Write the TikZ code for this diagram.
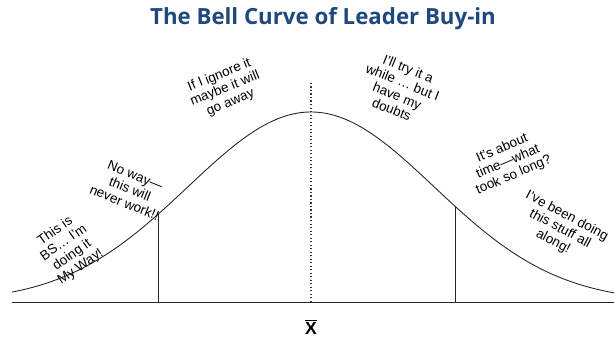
\documentclass[tikz,border=0pt]{standalone}
\usepackage{fontspec}
\setmainfont{Liberation Sans}
\newfontfamily\titlefont{Open Sans}
\definecolor{titleblue}{HTML}{1F497D}
\tikzset{
  remark/.style={align=center,font=\fontsize{11.5}{12.5}\selectfont,inner sep=0pt},
  curveline/.style={line width=.75pt,black!85},
}
\begin{document}
\begin{tikzpicture}[x=.03cm,y=.03cm]
\useasboundingbox (0,0) rectangle (614,339);
\node[font=\titlefont\bfseries\fontsize{19}{22}\selectfont,text=titleblue] (title) at (323,320) {The Bell Curve of Leader Buy-in};
%%%%
\draw[curveline] (12,37) -- (614,37);
\draw[curveline,domain=12:614,samples=120] plot (\x,{37+190*exp(-0.5*((\x-311)/123)^2)});
\draw[curveline] (158,37) -- (158,{37+190*exp(-0.5*((158-311)/123)^2)});
\draw[curveline] (455,37) -- (455,{37+190*exp(-0.5*((455-311)/123)^2)});
\draw[line width=1pt,black!80,dotted] (311,37) -- (311,257);
\node[font=\bfseries\fontsize{15}{18}\selectfont] (xbar) at (311,12) {$\overline{\mbox{X}}$};
%%%%
\node[remark,rotate=35] (bs) at (68,90) {This is\\BS\ldots\ I'm\\doing it\\My Way!};
\node[remark,rotate=-22] (noway) at (130,150) {No way---\\this will\\never work!!};
\node[remark,rotate=22] (ignore) at (225,250) {If I ignore it\\maybe it will\\go away};
\node[remark,rotate=-22] (doubts) at (400,250) {I'll try it a\\while \ldots\ but I\\have my\\doubts};
\node[remark,rotate=23] (time) at (508,177) {It's about\\time---what\\took so long?};
\node[remark,rotate=-28] (along) at (560,110) {I've been doing\\this stuff all\\along!};
\end{tikzpicture}
\end{document}
